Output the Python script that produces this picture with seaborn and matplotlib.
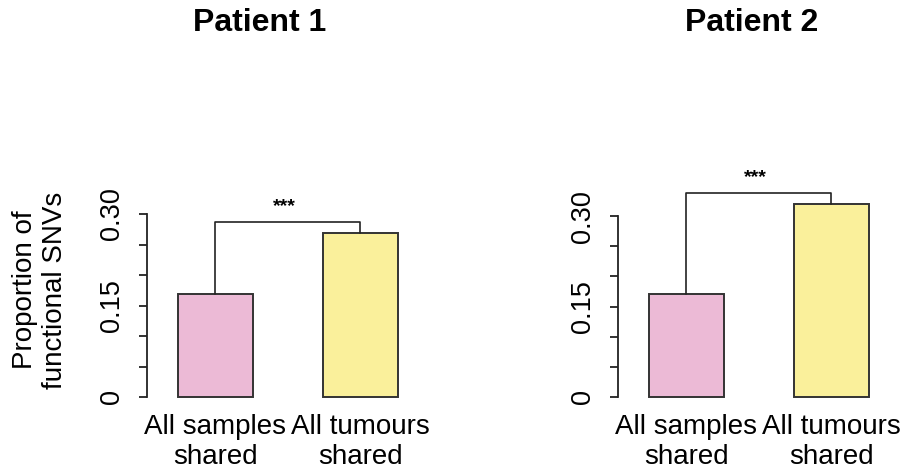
import matplotlib
matplotlib.use("Agg")
import matplotlib.pyplot as plt
import seaborn as sns
import pandas as pd

# Proportion of functional SNVs per group, for each patient
categories = ["All samples\nshared", "All tumours\nshared"]
patient1_values = [0.169, 0.269]
patient2_values = [0.171, 0.320]
panel_titles = ["Patient 1", "Patient 2"]
significance = ["***", "***"]
bracket_heights = [0.287, 0.338]
ytick_values = [0, 0.05, 0.10, 0.15, 0.20, 0.25, 0.30]
ytick_labels = ["0", "", "", "0.15", "", "", "0.30"]
bar_colors = ["#ECBAD6", "#FAF09B"]

sns.set_style("white")
plt.rcParams["font.family"] = ["Liberation Sans", "DejaVu Sans"]
for key in ["text.color", "axes.labelcolor", "xtick.color", "ytick.color"]:
    plt.rcParams[key] = "black"

W, H = 910, 472
fig = plt.figure(figsize=(W / 100, H / 100), dpi=100)

# panel geometry in pixels: y-axis x position, pixel of y=0, px per unit
panels = [
    dict(values=patient1_values, axis_x=147, y0=397, scale=610),
    dict(values=patient2_values, axis_x=618, y0=397, scale=603),
]
cat_px = 145          # pixels between category centres
left_units = 0.472    # gap from y-axis to first bar centre, in category units
ax_top_px, ax_bot_px = 160, 402

for i, p in enumerate(panels):
    width_units = 1 + 2 * left_units
    ax_w = width_units * cat_px
    ax = fig.add_axes([p["axis_x"] / W, 1 - ax_bot_px / H, ax_w / W,
                       (ax_bot_px - ax_top_px) / H])
    df = pd.DataFrame({"group": categories, "value": p["values"]})
    sns.barplot(data=df, x="group", y="value", hue="group", palette=bar_colors,
                legend=False, width=0.517, saturation=1, edgecolor="#333333",
                linewidth=1.4, ax=ax)
    ax.set_xlim(-left_units, 1 + left_units)
    ax.set_ylim(-(ax_bot_px - p["y0"]) / p["scale"],
                (p["y0"] - ax_top_px) / p["scale"])

    for s in ["top", "right", "bottom"]:
        ax.spines[s].set_visible(False)
    ax.spines["left"].set_bounds(0, 0.30)
    ax.spines["left"].set_linewidth(1.3)
    ax.spines["left"].set_color("#222222")

    ax.set_yticks(ytick_values)
    ax.set_yticklabels(ytick_labels, rotation=90, va="center", fontsize=19.5)
    ax.tick_params(axis="y", length=6, width=1.3, pad=10, color="#222222",
                   left=True)
    ax.tick_params(axis="x", length=0, pad=9, labelsize=20)
    ax.set_xlabel("")
    ax.set_ylabel("")

    # significance bracket between the two bars
    h = bracket_heights[i]
    v = p["values"]
    ax.plot([0, 0, 1, 1], [v[0], h, h, v[1]], color="#222222", lw=1.2,
            clip_on=False)
    ax.text(0.475, h + 0.012, significance[i], ha="center", va="bottom",
            fontsize=14, fontweight="bold", clip_on=False)

fig.text(260 / W, 1 - 23 / H, panel_titles[0], ha="center", va="center",
         fontsize=23, fontweight="bold")
fig.text(752 / W, 1 - 23 / H, panel_titles[1], ha="center", va="center",
         fontsize=23, fontweight="bold")
fig.text(40 / W, 1 - 290 / H, "Proportion of\nfunctional SNVs", rotation=90,
         ha="center", va="center", multialignment="center", fontsize=20)

fig.savefig("out.png", dpi=100, facecolor="white")
